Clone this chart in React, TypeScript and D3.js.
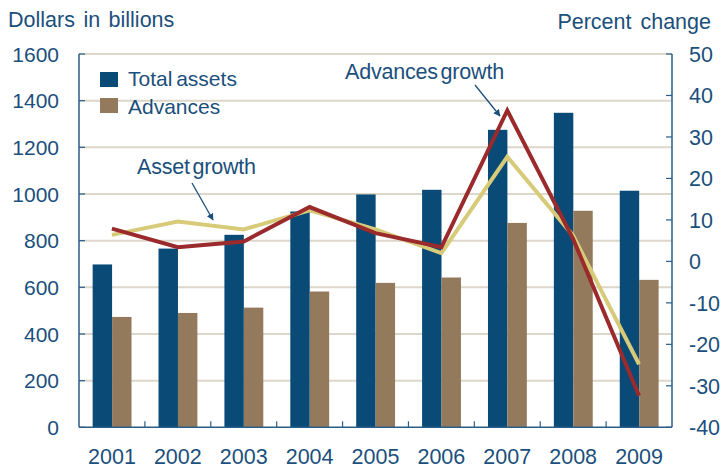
import React from "react";
import * as d3 from "d3";

const years = ["2001", "2002", "2003", "2004", "2005", "2006", "2007", "2008", "2009"];
const totalAssets = [698, 766, 825, 925, 998, 1018, 1275, 1348, 1014];
const advances = [473, 490, 513, 582, 619, 642, 876, 928, 632];
const assetGrowth = [6.4, 9.6, 7.7, 12.3, 7.7, 2.0, 25.2, 6.2, -24.8];
const advancesGrowth = [7.9, 3.4, 4.8, 13.1, 6.8, 3.4, 36.4, 5.4, -32.4];
const leftTicks = [0, 200, 400, 600, 800, 1000, 1200, 1400, 1600];
const rightTicks = [-40, -30, -20, -10, 0, 10, 20, 30, 40, 50];

const W = 728;
const H = 468;
const L = 79;
const R = 672;
const T = 54;
const B = 427.3;

const TEXT = "#1b4f7c";
const AXIS = "#2a5d88";
const GRID = "#dcd7ca";
const BLUE = "#094b76";
const BROWN = "#947a5c";
const RED = "#9a2a2b";
const YELLOW = "#d7cb7a";
const FONT = "'Liberation Sans', Arial, sans-serif";

export default function App() {
  const x = d3.scaleBand<string>().domain(years).range([L, R]).padding(0);
  const bw = x.bandwidth();
  const sub = d3.scaleBand<string>().domain(["ta", "adv"]).range([bw * 0.207, bw * 0.797]).padding(0);
  const yL = d3.scaleLinear().domain([0, 1600]).range([B, T]);
  const yR = d3.scaleLinear().domain([-40, 50]).range([B, T]);
  const cx = (d: string) => (x(d) as number) + bw / 2;

  const lineGen = (vals: number[]) =>
    d3.line<number>().x((_, i) => cx(years[i])).y((v) => yR(v))(vals) as string;

  return (
    <svg width={W} height={H} style={{ position: "absolute", left: 0, top: 0, background: "#fff" }} fontFamily={FONT}>
      <defs>
        <marker id="arr" viewBox="0 0 10 10" refX="9" refY="5" markerWidth="7" markerHeight="7" orient="auto-start-reverse" markerUnits="userSpaceOnUse">
          <path d="M0,0 L10,5 L0,10 z" fill={TEXT} />
        </marker>
      </defs>
      {/* gridlines */}
      {leftTicks.filter((t) => t > 0).map((t) => (
        <line key={"g" + t} x1={L} x2={R} y1={yL(t)} y2={yL(t)} stroke={GRID} strokeWidth={2} />
      ))}
      {/* bars */}
      {years.map((yr, i) => (
        <g key={"b" + yr}>
          <rect x={(x(yr) as number) + (sub("ta") as number)} y={yL(totalAssets[i])} width={sub.bandwidth()} height={B - yL(totalAssets[i])} fill={BLUE} />
          <rect x={(x(yr) as number) + (sub("adv") as number)} y={yL(advances[i])} width={sub.bandwidth()} height={B - yL(advances[i])} fill={BROWN} />
        </g>
      ))}
      {/* lines */}
      <path d={lineGen(assetGrowth)} fill="none" stroke={YELLOW} strokeWidth={4} strokeLinejoin="miter" />
      <path d={lineGen(advancesGrowth)} fill="none" stroke={RED} strokeWidth={4} strokeLinejoin="miter" />
      {/* axes */}
      <line x1={L} x2={L} y1={T} y2={B} stroke={AXIS} strokeWidth={1.5} />
      <line x1={R} x2={R} y1={T} y2={B} stroke={AXIS} strokeWidth={1.5} />
      <line x1={L} x2={R} y1={B} y2={B} stroke={AXIS} strokeWidth={1.5} />
      {leftTicks.map((t) => (
        <g key={"l" + t}>
          <line x1={L} x2={L + 6} y1={yL(t)} y2={yL(t)} stroke={AXIS} strokeWidth={1.2} />
          <text x={59} y={yL(t)} dy="0.36em" textAnchor="end" fontSize={21} fill={TEXT}>{t}</text>
        </g>
      ))}
      {rightTicks.map((t) => (
        <g key={"r" + t}>
          <line x1={R - 6} x2={R} y1={yR(t)} y2={yR(t)} stroke={AXIS} strokeWidth={1.2} />
          <text x={689} y={yR(t)} dy="0.36em" textAnchor="start" fontSize={21.5} fill={TEXT}>{t}</text>
        </g>
      ))}
      {years.map((yr, i) => (
        <g key={"x" + yr}>
          {i > 0 && <line x1={x(yr)} x2={x(yr)} y1={B} y2={B - 6} stroke={AXIS} strokeWidth={1.2} />}
          <text x={cx(yr)} y={464} textAnchor="middle" fontSize={21.5} fill={TEXT}>{yr}</text>
        </g>
      ))}
      {/* axis titles */}
      <text x={8} y={27} fontSize={21.5} wordSpacing={2.5} fill={TEXT}>Dollars in billions</text>
      <text x={711} y={29} fontSize={21.5} wordSpacing={3} textAnchor="end" fill={TEXT}>Percent change</text>
      {/* legend */}
      <rect x={100} y={72} width={18} height={15} fill={BLUE} />
      <text x={128} y={86} fontSize={21} wordSpacing={-2} fill={TEXT}>Total assets</text>
      <rect x={100} y={98} width={18} height={15} fill={BROWN} />
      <text x={128} y={114} fontSize={21} fill={TEXT}>Advances</text>
      {/* annotations */}
      <text x={137} y={174} fontSize={21.5} fill={TEXT} letterSpacing={-0.2} wordSpacing={-3}>Asset growth</text>
      <line x1={192} y1={183} x2={213} y2={220} stroke={TEXT} strokeWidth={1.3} markerEnd="url(#arr)" />
      <text x={345} y={79} fontSize={21.5} fill={TEXT} letterSpacing={-0.2} wordSpacing={-3}>Advances growth</text>
      <line x1={475} y1={85} x2={500} y2={116} stroke={TEXT} strokeWidth={1.3} markerEnd="url(#arr)" />
    </svg>
  );
}
